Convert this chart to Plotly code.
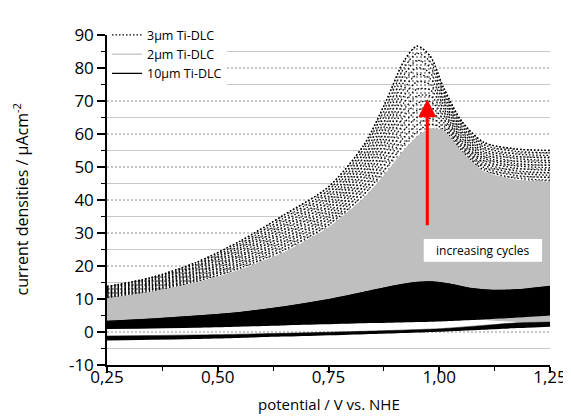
import plotly.graph_objects as go

# ---------------- data ----------------
potential = [0.25, 0.35, 0.45, 0.55, 0.65, 0.75, 0.83, 0.88, 0.92, 0.95, 0.98, 1.01, 1.05, 1.10, 1.17, 1.25]

# 3µm Ti-DLC : anodic sweeps of successive cycles (µA/cm²)
ti3_cycles = [
    [10.3, 12.3, 15.3, 19.4, 24.9, 32.5, 41.7, 49.7, 56.9, 60.7, 63.0, 61.4, 55.0, 49.2, 46.7, 46.0],
    [10.6, 12.7, 15.8, 20.1, 25.8, 33.4, 43.0, 51.4, 59.0, 62.8, 64.7, 62.4, 55.8, 49.9, 47.5, 46.8],
    [10.9, 13.0, 16.2, 20.7, 26.7, 34.4, 44.2, 53.1, 61.1, 65.0, 66.4, 63.5, 56.5, 50.6, 48.2, 47.5],
    [11.2, 13.4, 16.7, 21.4, 27.5, 35.3, 45.5, 54.8, 63.2, 67.1, 68.1, 64.5, 57.3, 51.3, 48.9, 48.3],
    [11.5, 13.7, 17.2, 22.1, 28.4, 36.3, 46.7, 56.5, 65.3, 69.3, 69.8, 65.6, 58.0, 52.0, 49.7, 49.0],
    [11.8, 14.1, 17.7, 22.8, 29.3, 37.3, 48.0, 58.2, 67.4, 71.5, 71.5, 66.6, 58.8, 52.7, 50.4, 49.8],
    [12.0, 14.4, 18.1, 23.4, 30.2, 38.2, 49.2, 59.8, 69.4, 73.6, 73.3, 67.7, 59.5, 53.3, 51.1, 50.5],
    [12.3, 14.8, 18.6, 24.1, 31.1, 39.2, 50.5, 61.5, 71.5, 75.8, 75.0, 68.7, 60.3, 54.0, 51.8, 51.3],
    [12.6, 15.1, 19.1, 24.8, 32.0, 40.2, 51.7, 63.2, 73.6, 78.0, 76.7, 69.8, 61.0, 54.7, 52.6, 52.0],
    [12.9, 15.5, 19.6, 25.5, 32.8, 41.1, 53.0, 64.9, 75.7, 80.1, 78.4, 70.8, 61.8, 55.4, 53.3, 52.8],
    [13.2, 15.8, 20.0, 26.1, 33.7, 42.1, 54.2, 66.6, 77.8, 82.3, 80.1, 71.9, 62.5, 56.1, 54.0, 53.5],
    [13.5, 16.2, 20.5, 26.8, 34.6, 43.0, 55.5, 68.3, 79.9, 84.4, 81.8, 72.9, 63.3, 56.8, 54.8, 54.3],
    [13.8, 16.5, 21.0, 27.5, 35.5, 44.0, 56.7, 70.0, 82.0, 86.6, 83.5, 74.0, 64.0, 57.5, 55.5, 55.0],
]

# 2µm Ti-DLC : envelope of all cycles (last anodic sweep on top, first cycle below)
ti2_top = [10.0, 12.0, 14.8, 18.7, 24.0, 31.5, 40.5, 48.0, 54.8, 59.0, 61.5, 60.8, 54.5, 48.5, 46.0, 45.3]
ti2_low_potential = [0.25, 0.45, 0.65, 0.85, 1.00, 1.06, 1.10, 1.18, 1.25]
ti2_low = [1.5, 1.9, 2.6, 3.3, 3.8, 3.9, 3.6, 3.0, 3.0]

# 10µm Ti-DLC : anodic band (top = last cycle, bottom = first cycle)
ti10_potential = [0.25, 0.35, 0.45, 0.55, 0.65, 0.75, 0.83, 0.90, 0.95, 0.98, 1.02, 1.07, 1.12, 1.18, 1.25]
ti10_top = [3.2, 3.9, 4.8, 5.9, 7.6, 9.8, 12.0, 14.0, 15.0, 15.2, 14.6, 13.2, 12.6, 12.8, 13.8]
ti10_low_potential = [0.25, 0.45, 0.65, 0.85, 1.00, 1.10, 1.18, 1.25]
ti10_low = [0.9, 1.3, 2.0, 2.7, 3.2, 3.8, 4.4, 5.0]
# 10µm Ti-DLC : cathodic band
ti10_cath_top = [-1.2, -0.9, -0.4, 0.3, 1.0, 2.0, 2.8, 3.0]
ti10_cath_low = [-2.6, -2.1, -1.4, -0.6, 0.1, 0.7, 1.2, 1.6]

legend_names = ["3µm Ti-DLC", "2µm Ti-DLC", "10µm Ti-DLC"]
x_tickvals = [0.25, 0.50, 0.75, 1.00, 1.25]
x_ticktext = ["0,25", "0,50", "0,75", "1,00", "1,25"]
x_minor = [0.375, 0.625, 0.875, 1.125]
y_tickvals = [-10, 0, 10, 20, 30, 40, 50, 60, 70, 80, 90]
y_ticktext = ["-10", "0", "10", "20", "30", "40", "50", "60", "70", "80", "90"]
y_minor = [-5, 5, 15, 25, 35, 45, 55, 65, 75, 85]
grid_major = [0, 10, 20, 30, 40, 50, 60, 70, 80]
grid_minor = [-5, 5, 15, 25, 35, 45, 55, 65, 75, 85]

arrow_from = (0.973, 31.9)
arrow_to = (0.973, 70.5)

FONT = "Open Sans"
GRAY = "#bfbfbf"
DOT = "1.5px,2px"
SPL = dict(shape="spline", smoothing=0.6)

fig = go.Figure()

# 3µm band texture (between 2µm top and last 3µm cycle)
fig.add_trace(go.Scatter(x=potential, y=ti2_top, mode="lines", line=dict(width=0, **SPL),
                         showlegend=False, hoverinfo="skip"))
fig.add_trace(go.Scatter(x=potential, y=ti3_cycles[-1], mode="lines", fill="tonexty",
                         fillcolor="rgba(0,0,0,0)",
                         fillpattern=dict(shape=".", fgcolor="black", bgcolor="white", size=4,
                                          solidity=0.18),
                         line=dict(width=0, shape="spline", smoothing=0.8),
                         showlegend=False, hoverinfo="skip"))

# 3µm dotted cycles
for cyc in ti3_cycles:
    fig.add_trace(go.Scatter(
        x=potential, y=cyc, mode="lines",
        line=dict(color="black", width=1.3, dash=DOT, shape="spline", smoothing=0.8),
        showlegend=False, hoverinfo="skip"))

# 2µm band
fig.add_trace(go.Scatter(x=ti2_low_potential, y=ti2_low, mode="lines",
                         line=dict(width=0, color=GRAY, **SPL), showlegend=False, hoverinfo="skip"))
fig.add_trace(go.Scatter(x=potential, y=ti2_top, mode="lines", fill="tonexty", fillcolor=GRAY,
                         line=dict(width=1, color=GRAY, **SPL), showlegend=False, hoverinfo="skip"))

# 10µm anodic band
fig.add_trace(go.Scatter(x=ti10_low_potential, y=ti10_low, mode="lines",
                         line=dict(width=0, color="black", **SPL), showlegend=False, hoverinfo="skip"))
fig.add_trace(go.Scatter(x=ti10_potential, y=ti10_top, mode="lines", fill="tonexty", fillcolor="black",
                         line=dict(width=1, color="black", **SPL), showlegend=False, hoverinfo="skip"))
# 10µm cathodic band
fig.add_trace(go.Scatter(x=ti10_low_potential, y=ti10_cath_low, mode="lines",
                         line=dict(width=0, color="black", **SPL), showlegend=False, hoverinfo="skip"))
fig.add_trace(go.Scatter(x=ti10_low_potential, y=ti10_cath_top, mode="lines", fill="tonexty",
                         fillcolor="black", line=dict(width=0.5, color="black", **SPL),
                         showlegend=False, hoverinfo="skip"))

# legend entries (outline curves of each family)
fig.add_trace(go.Scatter(x=potential, y=ti3_cycles[-1], mode="lines", name=legend_names[0],
                         line=dict(color="black", width=1.3, dash=DOT, shape="spline", smoothing=0.8),
                         hoverinfo="skip"))
fig.add_trace(go.Scatter(x=potential, y=ti2_top, mode="lines", name=legend_names[1],
                         line=dict(color=GRAY, width=1.3, **SPL), hoverinfo="skip"))
fig.add_trace(go.Scatter(x=ti10_potential, y=ti10_top, mode="lines", name=legend_names[2],
                         line=dict(color="black", width=1.3, **SPL), hoverinfo="skip"))

shapes = []
for g in grid_major:
    shapes.append(dict(type="line", xref="paper", x0=0, x1=1, yref="y", y0=g, y1=g, layer="below",
                       line=dict(color="#8c8c8c", width=1, dash="2px,2px")))
for g in grid_minor:
    shapes.append(dict(type="line", xref="paper", x0=0, x1=1, yref="y", y0=g, y1=g, layer="below",
                       line=dict(color="#c8c8c8", width=1)))
# label box
shapes.append(dict(type="rect", xref="x", yref="y", x0=0.965, x1=1.232, y0=21.3, y1=28.2,
                   fillcolor="white", line=dict(width=0), layer="above"))

annotations = [
    dict(x=arrow_to[0], y=arrow_to[1], ax=arrow_from[0], ay=arrow_from[1], xref="x", yref="y",
         axref="x", ayref="y", showarrow=True, arrowhead=2, arrowsize=1.2, arrowwidth=3,
         arrowcolor="#ff0000", text=""),
    dict(x=1.098, y=24.8, xref="x", yref="y", text="increasing cycles", showarrow=False,
         font=dict(family=FONT, size=12, color="black")),
    dict(x=0.5, y=-0.118, xref="paper", yref="paper", text="potential / V vs. NHE", showarrow=False,
         xanchor="center", yanchor="middle", font=dict(family=FONT, size=15, color="black")),
    dict(x=-0.193, y=0.5, xref="paper", yref="paper", text="current densities / µAcm<sup>-2</sup>",
         showarrow=False, textangle=-90, xanchor="center", yanchor="middle",
         font=dict(family=FONT, size=16, color="black")),
]

fig.update_layout(
    width=571, height=416,
    margin=dict(l=99, r=19, t=22, b=59),
    paper_bgcolor="white", plot_bgcolor="white",
    font=dict(family=FONT, color="black"),
    shapes=shapes, annotations=annotations,
    legend=dict(x=0.0, y=1.045, xanchor="left", yanchor="top", bgcolor="white",
                font=dict(family=FONT, size=12.5, color="black"), tracegroupgap=0,
                traceorder="normal", itemwidth=30),
)
fig.update_xaxes(range=[0.25, 1.25], tickmode="array", tickvals=x_tickvals, ticktext=x_ticktext,
                 showgrid=False, zeroline=False, showline=True, linecolor="black", linewidth=1.5,
                 ticks="outside", ticklen=6, tickwidth=1.5, tickcolor="black", ticklabelstandoff=-10,
                 tickfont=dict(family=FONT, size=17, color="black"),
                 minor=dict(tickmode="array", tickvals=x_minor, ticks="outside", ticklen=4,
                            tickwidth=1.2, tickcolor="black", showgrid=False))
fig.update_yaxes(range=[-10, 90], tickmode="array", tickvals=y_tickvals, ticktext=y_ticktext,
                 showgrid=False, zeroline=False, showline=True, linecolor="black", linewidth=1.5,
                 ticks="outside", ticklen=8, tickwidth=1.5, tickcolor="black",
                 tickfont=dict(family=FONT, size=17, color="black"),
                 minor=dict(tickmode="array", tickvals=y_minor, ticks="outside", ticklen=4,
                            tickwidth=1.2, tickcolor="black", showgrid=False))

fig.write_html("out.html")
